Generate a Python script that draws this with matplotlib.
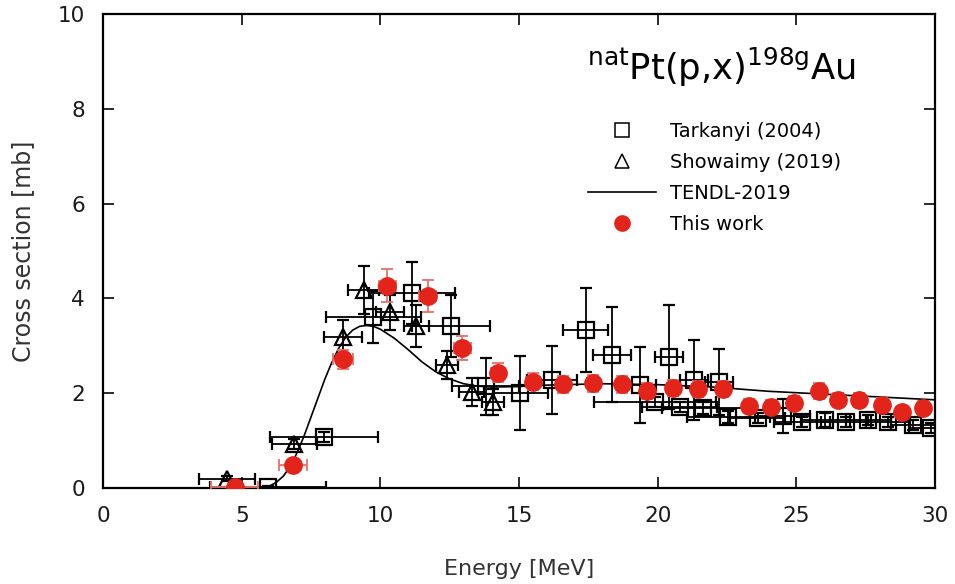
import matplotlib
matplotlib.use('Agg')
import matplotlib.pyplot as plt
from matplotlib.lines import Line2D
import numpy as np

# This work
work_E = [4.75, 6.85, 8.65, 10.25, 11.7, 12.95, 14.25, 15.5, 16.6, 17.65, 18.7, 19.6,
          20.55, 21.45, 22.35, 23.3, 24.1, 24.9, 25.8, 26.5, 27.25, 28.1, 28.8, 29.55]
work_s = [0.02, 0.49, 2.72, 4.27, 4.05, 2.95, 2.43, 2.24, 2.19, 2.21, 2.19, 2.05,
          2.11, 2.09, 2.08, 1.73, 1.71, 1.79, 2.05, 1.85, 1.86, 1.75, 1.60, 1.69]
work_dE = [0.85, 0.5, 0.35, 0.3, 0.3, 0.3, 0.25, 0.25, 0.2, 0.2, 0.2, 0.2,
           0.2, 0.2, 0.2, 0.2, 0.2, 0.2, 0.2, 0.2, 0.2, 0.2, 0.2, 0.2]
work_ds = [0.05, 0.08, 0.2, 0.35, 0.33, 0.25, 0.2, 0.18, 0.18, 0.18, 0.18, 0.17,
           0.17, 0.17, 0.17, 0.14, 0.14, 0.15, 0.17, 0.15, 0.15, 0.14, 0.13, 0.14]

# Tarkanyi (2004)
tar_E = [5.95, 7.97, 9.75, 11.15, 12.55, 13.8, 15.05, 16.2, 17.4, 18.35, 19.35, 20.4,
         21.3, 22.2, 19.9, 20.8, 21.65, 22.55, 23.6, 24.5, 25.2, 26.05, 26.8, 27.6,
         28.3, 29.2, 29.85]
tar_s = [0.02, 1.08, 3.60, 4.11, 3.42, 2.15, 2.0, 2.28, 3.33, 2.81, 2.17, 2.77,
         2.28, 2.24, 1.81, 1.71, 1.69, 1.50, 1.48, 1.52, 1.39, 1.43, 1.39, 1.43,
         1.39, 1.33, 1.27]
tar_dE = [2.1, 1.95, 1.7, 1.55, 1.4, 1.2, 1.0, 0.9, 0.8, 0.7, 0.6, 0.5,
          0.5, 0.5, 2.2, 1.35, 1.5, 1.5, 1.0, 1.0, 1.0, 0.9, 0.9, 0.8,
          0.8, 0.8, 0.8]
tar_ds = [0.02, 0.1, 0.55, 0.65, 0.66, 0.6, 0.78, 0.72, 0.88, 1.0, 0.8, 1.1,
          0.85, 0.7, 0.1, 0.1, 0.12, 0.12, 0.1, 0.35, 0.1, 0.15, 0.1, 0.1,
          0.1, 0.1, 0.1]

# Showaimy (2019)
sho_E = [4.47, 6.9, 8.65, 9.4, 10.35, 11.3, 12.4, 13.3, 14.05]
sho_s = [0.2, 0.93, 3.19, 4.18, 3.71, 3.42, 2.6, 2.03, 1.81]
sho_dE = [1.0, 0.8, 0.7, 0.55, 0.5, 0.45, 0.4, 0.45, 0.4]
sho_ds = [0.05, 0.1, 0.35, 0.5, 0.37, 0.45, 0.3, 0.3, 0.28]

# TENDL-2019
tendl_E = [3.0, 5.5, 5.8, 6.0, 6.25, 6.5, 6.75, 7.0, 7.25, 7.5, 7.75, 8.0, 8.25, 8.5,
           8.75, 9.0, 9.25, 9.5, 9.75, 10.0, 10.5, 11.0, 11.5, 12.0, 12.5, 13.0, 13.5,
           14.0, 15.0, 16.0, 18.0, 20.0, 22.0, 24.0, 26.0, 28.0, 30.0]
tendl_s = [0.0, 0.0, 0.01, 0.04, 0.12, 0.25, 0.45, 0.75, 1.1, 1.5, 1.9, 2.3, 2.65, 2.95,
           3.18, 3.33, 3.41, 3.43, 3.41, 3.35, 3.16, 2.92, 2.66, 2.45, 2.3, 2.2, 2.15,
           2.13, 2.14, 2.17, 2.2, 2.18, 2.13, 2.04, 1.98, 1.92, 1.86]

red = '#e3241b'
red_err = '#e8706a'

plt.rcParams['font.family'] = ['DejaVu Sans']
plt.rcParams['mathtext.fontset'] = 'dejavusans'

fig = plt.figure(figsize=(9.55, 5.84), dpi=100)
ax = fig.add_axes([0.1079, 0.1644, 0.8712, 0.8116])

ax.plot(tendl_E, tendl_s, color='black', lw=1.2, zorder=2)

ax.errorbar(tar_E, tar_s, xerr=tar_dE, yerr=tar_ds, fmt='s', ms=12, mfc='none',
            mec='black', mew=1.6, ecolor='black', elinewidth=1.3, capsize=4,
            capthick=1.3, zorder=3)
ax.errorbar(sho_E, sho_s, xerr=sho_dE, yerr=sho_ds, fmt='^', ms=12, mfc='none',
            mec='black', mew=1.6, ecolor='black', elinewidth=1.3, capsize=4,
            capthick=1.3, zorder=3)
ax.errorbar(work_E, work_s, xerr=work_dE, yerr=work_ds, fmt='o', ms=12.5, mfc=red,
            mec=red, ecolor=red_err, elinewidth=1.3, capsize=4, capthick=1.3,
            zorder=4)

ax.set_xlim(0, 30)
ax.set_ylim(0, 10)
ax.set_xticks([0, 5, 10, 15, 20, 25, 30])
ax.set_yticks([0, 2, 4, 6, 8, 10])
ax.tick_params(direction='in', length=8, width=1.3, top=True, right=True,
               labelsize=15.5, colors='#1a1a1a', pad=13)
for sp in ax.spines.values():
    sp.set_linewidth(1.6)
ax.set_xlabel('Energy [MeV]', fontsize=16, color='#333333', labelpad=24)
ax.set_ylabel('Cross section [mb]', fontsize=17, color='#333333', labelpad=16)

ax.text(22.3, 8.6, r'$^{\mathregular{nat}}$Pt(p,x)$^{\mathregular{198g}}$Au',
        fontsize=25.5, ha='center', va='baseline', color='black')

handles = [
    Line2D([], [], marker='s', ls='none', ms=10, mfc='none', mec='black', mew=1.1),
    Line2D([], [], marker='^', ls='none', ms=10, mfc='none', mec='black', mew=1.1),
    Line2D([], [], color='black', lw=1.2),
    Line2D([], [], marker='o', ls='none', ms=11, mfc=red, mec=red),
]
labels = ['Tarkanyi (2004)', 'Showaimy (2019)', 'TENDL-2019', 'This work']
ax.legend(handles, labels, loc='upper left', bbox_to_anchor=(0.583, 0.772),
          frameon=False, fontsize=14, handlelength=3.5, handletextpad=0.7,
          labelspacing=0.62, borderpad=0, borderaxespad=0)

fig.savefig('out.png', dpi=100)
